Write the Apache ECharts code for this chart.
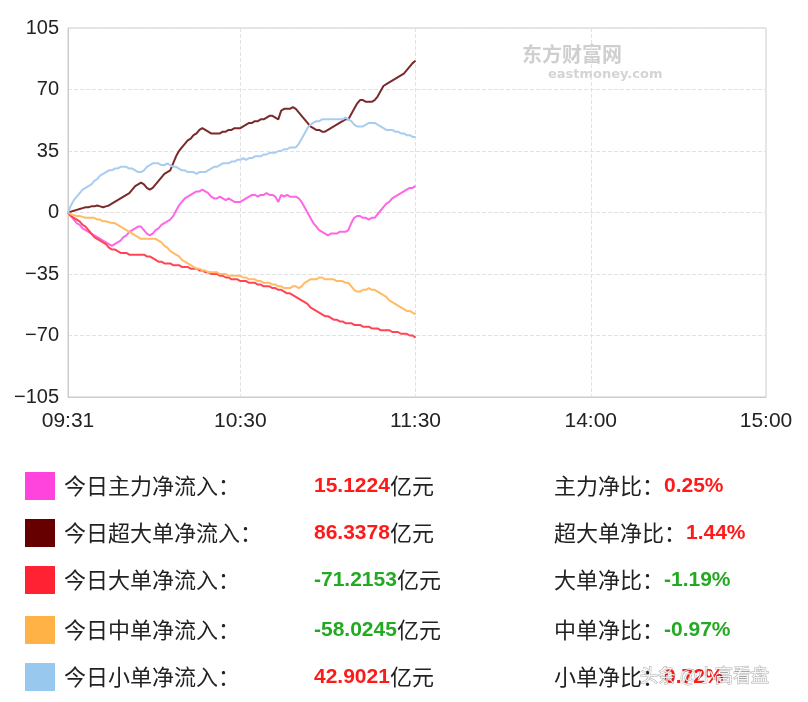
<!DOCTYPE html>
<html><head><meta charset="utf-8">
<script src="https://cdn.jsdelivr.net/npm/echarts@6/dist/echarts.min.js"></script>
<style>html,body{margin:0;padding:0;background:#fff}#c{width:808px;height:702px}</style>
</head><body><div id="c"></div>
<script>
const tickLabels = ['09:31','10:30','11:30','14:00','15:00'];
const yTicks = [-105,-70,-35,0,35,70,105];
const seriesNames = ['今日主力净流入','今日超大单净流入','今日大单净流入','今日中单净流入','今日小单净流入'];
const totals = ['15.1224','86.3378','-71.2153','-58.0245','42.9021'];
const ratioNames = ['主力净比','超大单净比','大单净比','中单净比','小单净比'];
const ratios = ['0.25%','1.44%','-1.19%','-0.97%','0.72%'];
const mainFlow = [0,-2,-4,-6,-7,-9,-10,-11,-12,-13,-14,-15,-16,-17,-18,-19,-18,-17,-16,-14,-13,-11,-10,-9,-8,-8,-10,-12,-13,-12,-10,-9,-7,-6,-5,-4,-2,1,4,6,8,9,10,11,12,12,13,12,11,9,8,8,9,8,7,8,7,6,6,6,7,8,9,10,10,9,10,10,11,10,10,9,6,10,9,10,9,9,9,8,6,3,0,-3,-6,-8,-10,-11,-12,-13,-12,-12,-12,-11,-11,-11,-10,-6,-3,-2,-2,-3,-3,-4,-3,-3,-1,1,3,5,6,8,9,10,11,12,13,14,14,15.1224];
const superFlow = [0,0.5,1,1.5,2,2.5,3,3,3.5,3.5,4,3.5,3,3.5,4,5,6,7,8,9,10,11,13,15,16,17,16,14,13,14,16,18,20,22,23,24,28,32,35,37,39,41,42,44,45,47,48,47,46,45,45,45,45,46,46,47,47,48,48,48,49,50,51,51,52,52,53,53,54,55,55,54,53,58,59,59,59,60,59,57,55,53,51,49,48,47,47,46,46,47,48,49,50,51,52,53,53,56,59,62,64,64,63,63,63,64,66,69,72,73,74,75,76,77,78,79,81,83,85,86.3378];
const largeFlow = [0,-2,-3,-4,-5,-7,-8,-10,-12,-14,-15,-16,-17,-18,-20,-21,-21,-22,-23,-23,-23,-24,-24,-24,-24,-24,-24,-25,-25,-26,-27,-28,-28,-29,-29,-29,-30,-30,-30,-31,-31,-31,-32,-32,-32,-33,-33,-34,-34,-35,-35,-35,-36,-36,-37,-37,-38,-38,-38,-39,-39,-39,-40,-40,-40,-41,-41,-42,-42,-42,-43,-43,-44,-44,-45,-46,-46,-47,-48,-49,-50,-51,-52,-54,-55,-56,-57,-58,-59,-59,-60,-61,-61,-62,-62,-63,-63,-63,-64,-64,-64,-65,-65,-65,-66,-66,-66,-67,-67,-67,-67,-68,-68,-68,-69,-69,-69,-70,-70,-71.2153];
const mediumFlow = [0,-1,-1.5,-2,-2,-2.5,-3,-3,-3,-3,-4,-4,-5,-5,-5.5,-6,-6,-7,-8,-9,-10,-11,-12,-13,-14,-15,-15,-15,-15,-15,-15,-16,-17,-19,-20,-22,-23,-24,-25,-27,-28,-29,-30,-31,-32,-32,-33,-33,-34,-34,-34,-34,-35,-35,-35,-36,-36,-36,-36,-36,-37,-37,-38,-38,-38,-39,-39,-40,-40,-40,-41,-41,-42,-42,-43,-43,-43,-42,-42,-43,-42,-40,-39,-38,-38,-38,-37,-37,-38,-38,-38,-38,-39,-39,-39,-40,-40,-42,-44,-45,-45,-44,-44,-43,-44,-44,-45,-46,-47,-48,-50,-51,-52,-53,-54,-55,-56,-56,-57,-58.0245];
const smallFlow = [0,4,7,9,11,13,14,15,16,18,19,21,22,23,24,24,25,25,26,26,26,25,25,24,23,23,24,26,27,28,28,28,27,27,28,27,26,26,25,24,24,23,23,23,22,23,23,23,24,25,26,26,27,28,28,28,29,29,30,30,31,30,31,31,32,32,32,33,33,34,34,34,35,35,36,36,37,37,37,39,42,45,48,50,51,52,52,53,53,53,53,53,53,53,53,54,53,52,50,49,49,49,50,51,51,51,50,49,48,47,47,47,46,46,45,45,44,44,43,42.9021];

const times = [];
function pushRange(h0,m0,n){let h=h0,m=m0;for(let i=0;i<n;i++){times.push((h<10?'0':'')+h+':'+(m<10?'0':'')+m);m++;if(m===60){m=0;h++;}}}
pushRange(9,31,120); pushRange(13,1,120);
const showIdx = i => tickLabels.includes(times[i]);

const lineColors = ['#ff66e6','#7a2a2a','#ff4455','#ffbb66','#a8cdf0'];
const swatchColors = ['#ff44dd','#660000','#ff2233','#ffb347','#99c8ee'];
const data = [mainFlow, superFlow, largeFlow, mediumFlow, smallFlow];

const chart = echarts.init(document.getElementById('c'));
const graphics = [
  {type:'text',left:522,top:44,style:{text:'东方财富网',font:'bold 20px "Noto Sans CJK SC"',fill:'#cfcfcf'}},
  {type:'text',left:548,top:68,style:{text:'eastmoney.com',font:'bold 13px "DejaVu Sans"',fill:'#d4d4d4'}}
];
const rowsY = [486,533,580,630,677];
rowsY.forEach((y,i)=>{
  const neg = totals[i].startsWith('-');
  graphics.push({type:'rect',shape:{x:25,y:y-14,width:30,height:28},style:{fill:swatchColors[i]}});
  graphics.push({type:'text',x:64,y:y,style:{text:seriesNames[i]+'：',font:'22px "Noto Sans CJK SC"',fill:'#222',verticalAlign:'middle'}});
  graphics.push({type:'text',x:314,y:y,style:{text:'{v|'+totals[i]+'}{u|亿元}',rich:{v:{font:'bold 21px "Liberation Sans"',fill:neg?'#22aa22':'#ff1a1a'},u:{font:'22px "Noto Sans CJK SC"',fill:'#222'}},verticalAlign:'middle'}});
  graphics.push({type:'text',x:554,y:y,style:{text:'{l|'+ratioNames[i]+'：}{v|'+ratios[i]+'}',rich:{l:{font:'22px "Noto Sans CJK SC"',fill:'#222'},v:{font:'bold 21px "Liberation Sans"',fill:ratios[i].startsWith('-')?'#22aa22':'#ff1a1a'}},verticalAlign:'middle'}});
});
graphics.push({type:'text',x:640,y:675,style:{text:'头条 @小高看盘',font:'18px "Noto Sans CJK SC"',fill:'rgba(255,255,255,0.85)',stroke:'rgba(0,0,0,0.35)',lineWidth:1,verticalAlign:'middle'}});

chart.setOption({
  animation:false,
  grid:{left:68,right:42,top:28,bottom:305,show:true,borderColor:'#ccc',borderWidth:1},
  xAxis:{type:'category',data:times,boundaryGap:false,
    axisLine:{onZero:false,lineStyle:{color:'#ccc'}},axisTick:{show:false},
    axisLabel:{interval:(i)=>showIdx(i),color:'#222',fontSize:21,margin:14,fontFamily:'Liberation Sans'},
    splitLine:{show:true,interval:(i)=>showIdx(i)&&i>0&&i<239,lineStyle:{type:'dashed',color:'#e2e2e2'}}},
  yAxis:{type:'value',min:yTicks[0],max:yTicks[yTicks.length-1],interval:35,
    axisLine:{show:true,lineStyle:{color:'#ccc'}},axisTick:{show:false},
    axisLabel:{color:'#222',fontSize:20,fontFamily:'Liberation Sans',margin:9,formatter:v=>String(v).replace('-','−')},
    splitLine:{lineStyle:{type:'dashed',color:'#e2e2e2'}}},
  graphic:graphics,
  series:data.map((d,i)=>({type:'line',name:seriesNames[i],data:d,showSymbol:false,
    lineStyle:{color:lineColors[i],width:2},itemStyle:{color:lineColors[i]}}))
});
</script></body></html>
